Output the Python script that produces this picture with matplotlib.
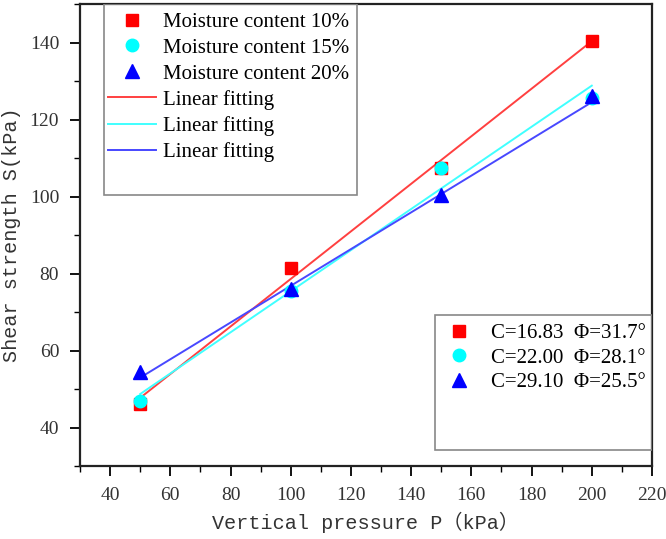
import numpy as np
import matplotlib
matplotlib.use("Agg")
import matplotlib.pyplot as plt
from matplotlib.patches import Rectangle
from matplotlib.ticker import MultipleLocator

# measured data
pressure = [50, 100, 150, 200]
s_10 = [46.0, 81.5, 107.5, 140.5]
s_15 = [47.0, 75.5, 107.5, 125.5]
s_20 = [54.5, 76.0, 100.5, 126.0]

# fitted parameters (cohesion C, friction angle phi)
labels = ["Moisture content 10%", "Moisture content 15%", "Moisture content 20%"]
cohesion = [16.83, 22.00, 29.10]
phi = [31.7, 28.1, 25.5]

marker_colors = ["#ff0000", "#00ffff", "#0000ff"]
line_colors = ["#ff4040", "#40ffff", "#4848ff"]
markers = ["s", "o", "^"]
msizes = [8, 9, 10]

plt.rcParams["font.family"] = ["Liberation Serif", "DejaVu Sans"]

fig = plt.figure(figsize=(6.66, 5.39), dpi=100)
ax = fig.add_axes([80 / 666, 1 - 466 / 539, 572 / 666, 462 / 539])

series = [s_10, s_15, s_20]
pt_handles = []
for i, ys in enumerate(series):
    h, = ax.plot(pressure, ys, linestyle="none", marker=markers[i], ms=msizes[i],
                 color=marker_colors[i], label=labels[i], zorder=4)
    pt_handles.append(h)

# fitted lines S = C + P*tan(phi)
fit_handles = []
xs = np.array([pressure[0], pressure[-1]])
for i in range(3):
    ys = cohesion[i] + np.tan(np.radians(phi[i])) * xs
    h, = ax.plot(xs, ys, color=line_colors[i], lw=1.4, label="Linear fitting", zorder=3)
    fit_handles.append(h)

ax.set_xlim(30, 220)
ax.set_ylim(30, 150)
ax.xaxis.set_minor_locator(MultipleLocator(10))
ax.yaxis.set_minor_locator(MultipleLocator(10))
ax.set_xticks([40, 60, 80, 100, 120, 140, 160, 180, 200, 220])
ax.set_yticks([40, 60, 80, 100, 120, 140])
ax.tick_params(which="major", direction="out", length=7, width=1.3, labelsize=14,
               labelcolor="#333333", pad=8)
ax.tick_params(which="minor", direction="out", length=4, width=1.0)
for sp in ax.spines.values():
    sp.set_linewidth(1.6)
    sp.set_color("#222222")

ax.set_xlabel("Vertical pressure P（kPa）", fontsize=14.5,
              family=["Liberation Mono", "Noto Sans CJK SC"], color="#333333", labelpad=6)
ax.set_ylabel("Shear strength S(kPa)", fontsize=14.5,
              family=["Liberation Mono", "Noto Sans CJK SC"], color="#333333", labelpad=6)

# legend 1 (points + fits)
ax.add_patch(Rectangle((0.042, 0.587), 0.442, 0.413, transform=ax.transAxes,
                       fill=False, edgecolor="#888888", lw=1.2, zorder=5))
leg1 = ax.legend(pt_handles + fit_handles, labels + ["Linear fitting"] * 3,
                 loc="upper left", bbox_to_anchor=(0.035, 1.0), frameon=False,
                 fontsize=15, handlelength=2.3, handletextpad=0.3, labelspacing=0.3,
                 borderaxespad=0.1, borderpad=0.3)
ax.add_artist(leg1)

# legend 2 (fit parameters)
ax.add_patch(Rectangle((0.621, 0.035), 0.379, 0.292, transform=ax.transAxes,
                       fill=False, edgecolor="#888888", lw=1.2, zorder=5))
param_labels = ["C=%.2f  Φ=%.1f°" % (c, p) for c, p in zip(cohesion, phi)]
ax.legend(pt_handles, param_labels, loc="upper left", bbox_to_anchor=(0.621, 0.327),
          frameon=False, fontsize=15, handlelength=1.5, handletextpad=0.8,
          labelspacing=0.25, borderaxespad=0.1, borderpad=0.3)

fig.savefig("out.png", dpi=100)
